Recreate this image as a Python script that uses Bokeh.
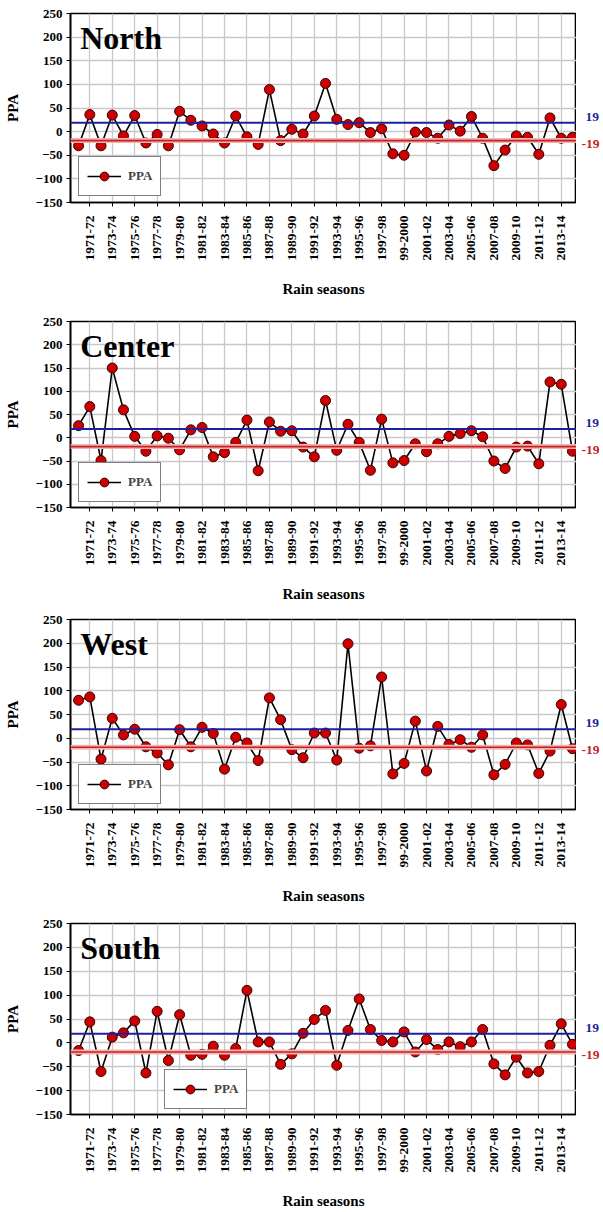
import math
from bokeh.plotting import figure
from bokeh.layouts import column, row
from bokeh.models import Range1d, FixedTicker, Label, Span, Legend
from bokeh.embed import file_html
from bokeh.resources import INLINE

seasons = ["1970-71", "1971-72", "1972-73", "1973-74", "1974-75", "1975-76", "1976-77", "1977-78",
           "1978-79", "1979-80", "1980-81", "1981-82", "1982-83", "1983-84", "1984-85", "1985-86",
           "1986-87", "1987-88", "1988-89", "1989-90", "1990-91", "1991-92", "1992-93", "1993-94",
           "1994-95", "1995-96", "1996-97", "1997-98", "1998-99", "99-2000", "2000-01", "2001-02",
           "2002-03", "2003-04", "2004-05", "2005-06", "2006-07", "2007-08", "2008-09", "2009-10",
           "2010-11", "2011-12", "2012-13", "2013-14", "2014-15"]

tick_labels = ["1971-72", "1973-74", "1975-76", "1977-78", "1979-80", "1981-82", "1983-84",
               "1985-86", "1987-88", "1989-90", "1991-92", "1993-94", "1995-96", "1997-98",
               "99-2000", "2001-02", "2003-04", "2005-06", "2007-08", "2009-10", "2011-12", "2013-14"]

north = [-30, 36, -30, 35, -9, 34, -24, -6, -30, 43, 24, 12, -5, -24, 33, -11, -27, 89, -19, 5,
         -5, 33, 102, 26, 15, 19, -2, 6, -47, -50, -1, -2, -14, 14, 1, 32, -14, -72, -39, -9,
         -12, -48, 29, -14, -12]
center = [26, 67, -49, 150, 60, 3, -29, 4, -1, -26, 17, 22, -41, -32, -10, 38, -71, 34, 14, 15,
          -20, -41, 80, -27, 29, -10, -70, 40, -54, -49, -13, -30, -13, 3, 9, 15, 2, -50, -66, -20,
          -18, -56, 120, 115, -29]
west = [80, 87, -44, 42, 7, 19, -18, -31, -56, 18, -18, 23, 10, -65, 2, -10, -47, 85, 39, -24,
        -41, 11, 11, -46, 199, -21, -16, 129, -75, -53, 36, -69, 25, -13, -3, -19, 7, -77, -55, -10,
        -14, -74, -27, 71, -22]
south = [-16, 44, -60, 12, 21, 46, -63, 66, -37, 59, -26, -24, -7, -26, -12, 110, 2, 2, -45, -23,
         20, 49, 68, -47, 26, 92, 28, 5, 2, 23, -19, 7, -14, 2, -8, 2, 28, -44, -67, -30,
         -63, -60, -5, 40, -3]

regions = ["North", "Center", "West", "South"]
series = [north, center, west, south]
upper_value = 19
lower_value = -19
upper_text = "19"
lower_text = "-19"
y_ticks = [-150, -100, -50, 0, 50, 100, 150, 200, 250]

# layout per panel: (height, border_top, border_bottom, legend_x, legend_y)
panel_layout = [
    (303, 13, 101, 8, 6),
    (303, 18, 99, 8, 5),
    (303, 13, 100, 8, 5),
    (303, 14, 98, 94, 5),
]

FONT = "Liberation Serif"
BLUE = "#1f1f9e"
RED = "#c42222"
x_idx = list(range(len(seasons)))
tick_pos = list(range(1, len(seasons), 2))
overrides = {pos: lab for pos, lab in zip(tick_pos, tick_labels)}

rows = []
for name, vals, (h, bt, bb, lx, ly) in zip(regions, series, panel_layout):
    p = figure(width=576, height=h, output_backend="svg", toolbar_location=None,
               x_range=Range1d(-0.72, 44.36), y_range=Range1d(-150, 250),
               min_border_left=70, min_border_right=0, min_border_top=bt, min_border_bottom=bb)
    p.background_fill_color = "white"
    p.border_fill_color = "white"
    p.outline_line_color = "black"
    p.outline_line_width = 1.6

    p.xaxis.ticker = FixedTicker(ticks=tick_pos)
    p.xaxis.major_label_overrides = overrides
    p.xaxis.major_label_orientation = math.pi / 2
    p.yaxis.ticker = FixedTicker(ticks=y_ticks)
    for ax in (p.xaxis, p.yaxis):
        ax.major_label_text_font = FONT
        ax.major_label_text_font_style = "bold"
        ax.major_label_text_color = "black"
        ax.axis_label_text_font = FONT
        ax.axis_label_text_font_style = "bold"
        ax.axis_label_text_color = "black"
        ax.axis_line_color = "black"
        ax.axis_line_width = 1.6
        ax.major_tick_line_color = "black"
        ax.major_tick_out = 4
        ax.major_tick_in = 0
        ax.minor_tick_line_color = None
    p.xaxis.major_label_text_font_size = "13.5px"
    p.yaxis.major_label_text_font_size = "13px"
    p.xaxis.major_label_standoff = 9
    p.yaxis.major_label_standoff = 4
    p.xaxis.axis_label = "Rain seasons"
    p.yaxis.axis_label = "PPA"
    p.xaxis.axis_label_text_font_size = "15px"
    p.yaxis.axis_label_text_font_size = "15px"
    p.xaxis.axis_label_standoff = 18
    p.yaxis.axis_label_standoff = 12

    p.xgrid.ticker = FixedTicker(ticks=tick_pos)
    p.ygrid.ticker = FixedTicker(ticks=y_ticks)
    for g in (p.xgrid, p.ygrid):
        g.grid_line_color = "#c8c8c8"
        g.grid_line_width = 1.3

    # threshold lines
    p.add_layout(Span(location=upper_value, dimension="width", line_color=BLUE, line_width=2))
    p.add_layout(Span(location=lower_value, dimension="width", line_color="#f2b3b3", line_width=5))
    p.add_layout(Span(location=lower_value, dimension="width", line_color=RED, line_width=1.6))

    r1 = p.line(x_idx, vals, line_color="black", line_width=1.6)
    r2 = p.scatter(x_idx, vals, size=10, fill_color="#cc0000", line_color="#3a0000", line_width=1)

    legend = Legend(items=[("PPA", [r1, r2])], location=(lx, ly))
    legend.border_line_color = "black"
    legend.border_line_width = 1.5
    legend.background_fill_color = "white"
    legend.background_fill_alpha = 1
    legend.label_text_font = FONT
    legend.label_text_font_style = "bold"
    legend.label_text_font_size = "13px"
    legend.glyph_width = 34
    legend.glyph_height = 22
    legend.label_height = 22
    legend.label_standoff = 7
    legend.padding = 8
    legend.margin = 0
    p.add_layout(legend, "center")

    p.add_layout(Label(x=0.15, y=237, text=name, text_font=FONT, text_font_style="bold",
                       text_font_size="32px", text_color="black", text_baseline="top"))

    # side strip with threshold value labels
    q = figure(width=27, height=h, output_backend="svg", toolbar_location=None,
               x_range=Range1d(0, 27), y_range=Range1d(-150, 250),
               x_axis_location=None, y_axis_location=None,
               min_border_left=0, min_border_right=0, min_border_top=bt, min_border_bottom=bb)
    q.grid.visible = False
    q.outline_line_color = None
    q.background_fill_color = "white"
    q.border_fill_color = "white"
    q.text(x=[9, 5], y=[upper_value, lower_value], text=[upper_text, lower_text],
           y_offset=[-6, 3],
           text_color=[BLUE, RED], text_font_size="13.5px", text_font_style="bold",
           text_baseline="middle", text_align="left", text_font={"value": FONT})
    rows.append(row(p, q, spacing=0))

layout = column(*rows, spacing=0)
open("out.html", "w").write(file_html(layout, INLINE))
